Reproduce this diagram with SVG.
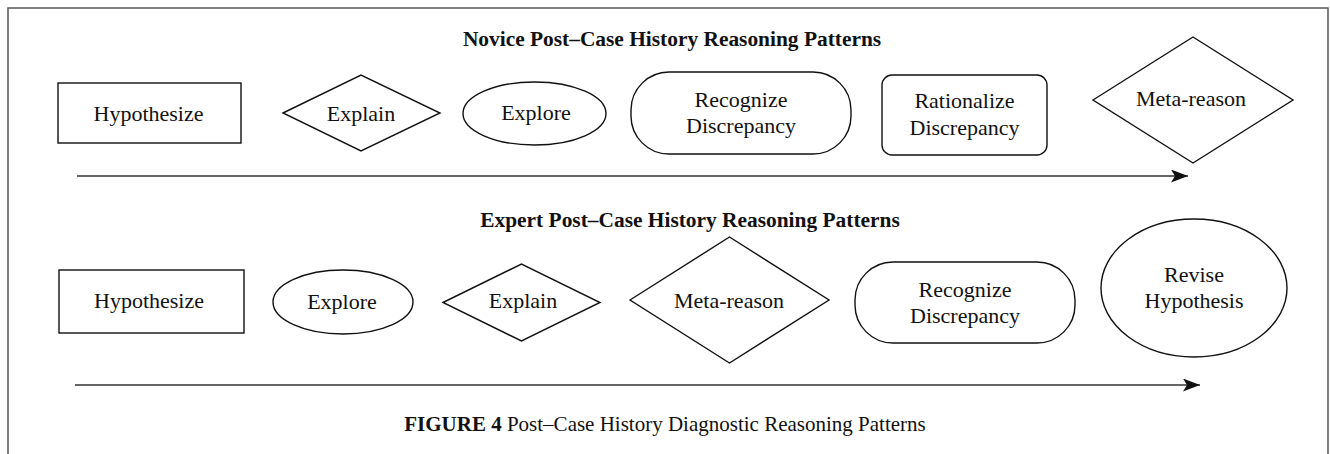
<svg xmlns="http://www.w3.org/2000/svg" width="1330" height="454" viewBox="0 0 1330 454">
  <style>
    .shape { fill: #fff; stroke: #111; stroke-width: 1.4; }
    .frame { fill: none; stroke: #555; stroke-width: 1.5; }
    .flow { fill: none; stroke: #333; stroke-width: 1.6; }
    text { font-family: "Liberation Serif", "Times New Roman", serif; fill: #111; }
    .label { font-size: 22px; text-anchor: middle; }
    .title { font-size: 21.4px; font-weight: bold; text-anchor: middle; }
    .caption { font-size: 21px; text-anchor: middle; }
  </style>
  <defs>
    <marker id="head" viewBox="0 0 17 13" refX="17" refY="6.5" markerWidth="17" markerHeight="13" markerUnits="userSpaceOnUse" orient="auto">
      <path d="M0,0 L17,6.5 L0,13 L4,6.5 Z" fill="#111"/>
    </marker>
  </defs>
  <rect width="1330" height="454" fill="#fff"/>

  <!-- figure frame, open at the bottom -->
  <path class="frame" d="M8,454 V8 H1328 V454"/>

  <!-- section headings -->
  <text class="title" x="672" y="46">Novice Post–Case History Reasoning Patterns</text>
  <text class="title" x="690" y="227">Expert Post–Case History Reasoning Patterns</text>

  <!-- novice sequence -->
  <g id="novice-hypothesize">
    <rect class="shape" x="58" y="83" width="183" height="60"/>
    <text class="label" x="148.5" y="121">Hypothesize</text>
  </g>
  <g id="novice-explain">
    <polygon class="shape" points="283,113 361,75 440,113 361,151"/>
    <text class="label" x="361" y="120.5">Explain</text>
  </g>
  <g id="novice-explore">
    <ellipse class="shape" cx="534.5" cy="113.5" rx="71.5" ry="31.5"/>
    <text class="label" x="536" y="119.5">Explore</text>
  </g>
  <g id="novice-recognize">
    <rect class="shape" x="631" y="72" width="220" height="82" rx="38" ry="38"/>
    <text class="label" x="741" y="106.5">Recognize</text>
    <text class="label" x="741" y="133">Discrepancy</text>
  </g>
  <g id="novice-rationalize">
    <rect class="shape" x="882" y="75" width="165" height="80" rx="10" ry="10"/>
    <text class="label" x="964.5" y="108">Rationalize</text>
    <text class="label" x="964.5" y="135">Discrepancy</text>
  </g>
  <g id="novice-metareason">
    <polygon class="shape" points="1093,100 1193,37 1293,100 1193,163"/>
    <text class="label" x="1191" y="106">Meta-reason</text>
  </g>

  <!-- expert sequence -->
  <g id="expert-hypothesize">
    <rect class="shape" x="59" y="270" width="185" height="63"/>
    <text class="label" x="149" y="307.5">Hypothesize</text>
  </g>
  <g id="expert-explore">
    <ellipse class="shape" cx="343" cy="302" rx="70" ry="32"/>
    <text class="label" x="342" y="308.5">Explore</text>
  </g>
  <g id="expert-explain">
    <polygon class="shape" points="443,302.5 521.5,264 600,302.5 521.5,341"/>
    <text class="label" x="523" y="308">Explain</text>
  </g>
  <g id="expert-metareason">
    <polygon class="shape" points="630,300 729.5,237 829,300 729.5,363"/>
    <text class="label" x="729" y="307.5">Meta-reason</text>
  </g>
  <g id="expert-recognize">
    <rect class="shape" x="855" y="262" width="220" height="81" rx="38" ry="38"/>
    <text class="label" x="965" y="297">Recognize</text>
    <text class="label" x="965" y="323">Discrepancy</text>
  </g>
  <g id="expert-revise">
    <ellipse class="shape" cx="1194" cy="288" rx="93" ry="69"/>
    <text class="label" x="1194" y="282">Revise</text>
    <text class="label" x="1194" y="307.5">Hypothesis</text>
  </g>

  <!-- progression arrows -->
  <g id="connectors">
    <line class="flow" x1="77" y1="176" x2="1188" y2="176" marker-end="url(#head)"/>
    <line class="flow" x1="75" y1="385" x2="1200" y2="385" marker-end="url(#head)"/>
  </g>

  <!-- caption -->
  <text class="caption" x="665" y="431"><tspan font-weight="bold">FIGURE 4</tspan> Post–Case History Diagnostic Reasoning Patterns</text>
</svg>
